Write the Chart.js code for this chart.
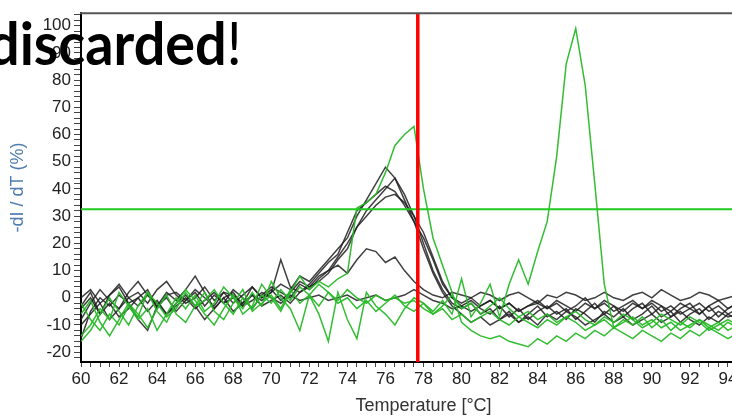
<!DOCTYPE html>
<html>
<head>
<meta charset="utf-8">
<script src="https://cdn.jsdelivr.net/npm/chart.js@4/dist/chart.umd.min.js"></script>
<style>
  html, body { margin: 0; padding: 0; background: #fff; overflow: hidden; }
  #wrap { position: relative; width: 732px; height: 418px; overflow: hidden; }
  #melt { position: absolute; left: 0; top: 0; }
  #note {
    position: absolute; left: -12px; top: 12px;
    font-family: Lato, "Open Sans", sans-serif; font-size: 60px; line-height: 1;
    color: #000; white-space: nowrap;
    transform: scaleX(0.93); transform-origin: 0 0;
  }
  #note b { font-weight: 700; }
</style>
</head>
<body>
<div id="wrap">
  <canvas id="melt" width="766" height="418"></canvas>
  <div id="note"><b>discarded</b>!</div>
</div>
<script>
// temperatures (°C) at which each curve was read
const temps = [60, 60.5, 61, 61.5, 62, 62.5, 63, 63.5, 64, 64.5, 65, 65.5, 66, 66.5, 67, 67.5, 68, 68.5, 69, 69.5,
    70, 70.5, 71, 71.5, 72, 72.5, 73, 73.5, 74, 74.5, 75, 75.5, 76, 76.5, 77, 77.5, 78, 78.5, 79, 79.5,
    80, 80.5, 81, 81.5, 82, 82.5, 83, 83.5, 84, 84.5, 85, 85.5, 86, 86.5, 87, 87.5, 88, 88.5, 89, 89.5,
    90, 90.5, 91, 91.5, 92, 92.5, 93, 93.5, 94, 94.5, 95, 95.5, 96];

// -dI/dT (%) curves, black samples
const black1 = [-3, 2, -6, 1, 4, -2, 0, 3, -4, 1, 2, -1, 3, 0, -3, 2, 1, -2, 4, 0,
    2, 5, 3, 8, 6, 10, 14, 18, 22, 30, 36, 42, 48, 44, 38, 30, 20, 10, 3, -2,
    -4, -2, -6, -4, -8, -5, -9, -6, -3, -7, -5, -8, -4, -6, -9, -5, -7, -4, -8, -6,
    -3, -7, -5, -9, -6, -4, -8, -5, -7, -6, -8, -5, -7];
const black2 = [-8, -2, 3, -1, -4, 2, 6, 1, -3, 0, -5, -1, 2, -3, 1, -2, 3, 0, -4, 1,
    4, 2, 0, 5, 3, 7, 10, 15, 20, 26, 32, 36, 40, 44, 36, 28, 18, 9, 2, -3,
    -6, -9, -7, -10, -8, -6, -9, -7, -10, -6, -8, -5, -7, -10, -8, -6, -9, -7, -10, -8,
    -6, -9, -7, -5, -8, -10, -7, -9, -6, -8, -10, -7, -9];
const black3 = [-15, -5, 0, -3, 1, -2, -8, -12, -3, 2, -1, 3, 8, 2, -4, 0, 2, -3, 1, -1,
    2, 14, 4, 2, 5, 9, 13, 16, 24, 32, 35, 38, 41, 39, 34, 28, 22, 14, 5, 0,
    -2, 0, -3, -1, -4, -2, -5, -3, -1, -4, -2, -5, -3, 0, -4, -2, -5, -3, -1, -4,
    -2, -5, -3, -6, -4, -2, -5, -3, -6, -4, -2, -5, -3];
const black4 = [-4, 0, -6, -2, -7, -4, 0, -5, -1, -6, -2, 1, -3, -8, -4, 0, -5, -2, 1, -3,
    -1, 1, -2, 2, 4, 6, 9, 14, 18, 26, 30, 34, 37, 38, 35, 30, 24, 15, 6, 0,
    -3, -1, -4, -6, -3, -7, -4, -8, -5, -3, -6, -4, -8, -5, -2, -6, -3, -7, -4, -2,
    -6, -3, -7, -4, -2, -6, -3, -7, -4, -2, -5, -3, -6];
const black5 = [0, 3, -2, 1, 5, 0, 2, -2, 3, 6, 1, -2, 0, 4, -1, 2, -2, 1, 4, 0,
    3, -1, 2, 6, 4, 8, 10, 12, 9, 14, 18, 17, 13, 15, 10, 6, 3, 1, 0, 2,
    1, 0, 2, 1, -1, 1, 2, 0, -2, 1, 0, 2, 1, -1, 0, 2, 0, -1, 1, 2,
    0, 3, 1, -1, 0, 2, 1, -1, 0, 1, -1, 1, 0];
const black6 = [-10, -6, -2, -8, -4, 0, -3, 1, -2, -6, -3, 0, -4, -1, 2, -2, 0, -3, -1, 2,
    0, -2, 1, -1, 0, 1, -1, 0, 1, -1, 0, 1, -1, 0, 1, 3, 1, -1, -2, -4,
    -3, -5, -3, -1, -4, -2, -5, -3, -2, -4, -1, -3, -5, -2, -4, -1, -3, -5, -2, -4,
    -1, -3, -5, -2, -4, -6, -3, -1, -4, -2, -4, -3, -5];

// green samples
const green1 = [-14, -10, -4, -8, 2, -3, -8, -4, -12, -6, 0, -4, 1, -5, -2, 4, 0, -4, 2, -3,
    6, 0, -4, -12, 1, -6, -16, 2, -8, -15, 2, -3, -6, -10, -4, 0, -2, -5, -1, -6,
    7, -7, -2, 5, -7, 5, 14, 5, 17, 28, 52, 86, 99, 78, 42, 5, -11, -8, -10, -7,
    -11, -8, -12, -9, -11, -8, -10, -12, -9, -11, -9, -12, -10];
const green2 = [-2, -8, -12, -6, -10, -3, -7, 2, -5, -9, -2, 3, -1, -6, -10, -4, 1, -6, -3, 5,
    0, -5, 2, 8, 3, 6, 4, 7, 9, 33, 35, 38, 46, 56, 60, 63, 40, 22, 12, 2,
    -9, -12, -14, -15, -14, -16, -17, -18, -15, -17, -14, -16, -13, -15, -12, -14, -11, -13, -15, -12,
    -14, -16, -13, -15, -12, -14, -11, -13, -15, -13, -12, -14, -13];
const green3 = [-16, -12, -6, 0, -5, -10, -3, 2, -2, -7, -4, 2, -3, -1, 3, -2, -6, 0, -4, 1,
    -2, 3, -1, 4, 1, 5, 2, -1, 3, 0, -2, 1, -1, 0, -2, -1, -4, -6, -4, -8,
    -6, -9, -7, -5, -8, -10, -7, -9, -11, -8, -10, -7, -9, -12, -10, -8, -11, -9, -7, -10,
    -8, -11, -9, -12, -10, -8, -11, -9, -12, -10, -11, -9, -10];
const green4 = [-6, -1, -9, -14, -8, -2, -6, -11, -4, 1, -6, -9, -3, 2, -5, -8, -2, 3, -5, -2,
    1, -4, 3, -2, 1, -3, 2, -2, 0, -4, -1, -5, -2, 1, -3, -5, -2, -6, -3, 1,
    -4, -2, -6, -3, 0, -4, -7, -5, -8, -6, -9, -7, -5, -8, -10, -7, -9, -6, -8, -11,
    -9, -6, -8, -10, -7, -9, -12, -10, -8, -10, -9, -11, -9];

// threshold and selected temperature
const thresholdLevel = 32.5;
const markerTemp = 77.7;

// axis ranges and labelled ticks (the picture is cropped a little before 96 °C)
const xRange = [60, 96];
const yRange = [-23.6, 104.6];
const xTickLabels = [60, 62, 64, 66, 68, 70, 72, 74, 76, 78, 80, 82, 84, 86, 88, 90, 92, 94, 96];
const yTickLabels = [-20, -10, 0, 10, 20, 30, 40, 50, 60, 70, 80, 90, 100];

const blackCurves = [black1, black2, black3, black4, black5, black6];
const greenCurves = [green1, green2, green3, green4];

function toPoints(values) {
    return values.map((v, i) => ({ x: temps[i], y: v }));
}

function curveSet(values, color, ord) {
    return {
        data: toPoints(values),
        borderColor: color,
        borderWidth: 1.5,
        pointRadius: 0,
        tension: 0,
        order: ord
    };
}

const datasets = [];
// red marker line on top
datasets.push({
    data: [{ x: markerTemp, y: yRange[0] }, { x: markerTemp, y: yRange[1] }],
    borderColor: '#ff0000', borderWidth: 3.5, pointRadius: 0, order: 0
});
// threshold line
datasets.push({
    data: [{ x: xRange[0], y: thresholdLevel }, { x: xRange[1], y: thresholdLevel }],
    borderColor: '#1ecb1e', borderWidth: 2, pointRadius: 0, order: 1
});
greenCurves.forEach(g => datasets.push(curveSet(g, 'rgba(40,185,40,0.95)', 2)));
blackCurves.forEach(b => datasets.push(curveSet(b, 'rgba(30,30,30,0.85)', 3)));

// minor ticks between labels
function stepTicks(min, max, step) {
    const out = [];
    for (let v = Math.ceil(min / step) * step; v <= max + 1e-9; v += step) {
        out.push({ value: Math.round(v * 100) / 100 });
    }
    return out;
}

// top frame line
const framePlugin = {
    id: 'frame',
    afterDraw(chart) {
        const { ctx, chartArea } = chart;
        ctx.save();
        ctx.strokeStyle = '#555';
        ctx.lineWidth = 2;
        ctx.beginPath();
        ctx.moveTo(chartArea.left - 1, chartArea.top);
        ctx.lineTo(chartArea.right, chartArea.top);
        ctx.stroke();
        ctx.restore();
    }
};

const fontFamily = '"Liberation Sans", Arial, sans-serif';
const tickFont = { family: fontFamily, size: 17 };

new Chart(document.getElementById('melt'), {
    type: 'line',
    data: { datasets: datasets },
    options: {
        responsive: false,
        animation: false,
        events: [],
        layout: { padding: { top: 7, right: 0, left: 0, bottom: 0 } },
        plugins: { legend: { display: false }, tooltip: { enabled: false } },
        scales: {
            x: {
                type: 'linear',
                min: xRange[0],
                max: xRange[1],
                afterBuildTicks: s => { s.ticks = stepTicks(60, 96, 0.5); },
                afterFit: s => { s.height = 56; s.paddingLeft = 0; s.paddingRight = 0; },
                ticks: {
                    autoSkip: false,
                    maxRotation: 0,
                    padding: 2,
                    color: '#222',
                    font: tickFont,
                    callback: v => xTickLabels.includes(v) ? String(v) : ''
                },
                grid: { drawOnChartArea: false, drawTicks: true, tickLength: 5, tickColor: '#444', tickWidth: 1 },
                border: { display: true, color: '#000', width: 2 },
                title: {
                    display: true,
                    text: 'Temperature [°C]',
                    color: '#333',
                    font: { family: fontFamily, size: 18 },
                    padding: { top: 0, bottom: 1 }
                }
            },
            y: {
                type: 'linear',
                min: yRange[0],
                max: yRange[1],
                afterBuildTicks: s => { s.ticks = stepTicks(-22, 104, 2); },
                afterFit: s => { s.width = 81; },
                ticks: {
                    autoSkip: false,
                    padding: 3,
                    color: '#222',
                    font: tickFont,
                    callback: v => yTickLabels.includes(v) ? String(v) : ''
                },
                grid: { drawOnChartArea: false, drawTicks: true, tickLength: 7, tickColor: '#444', tickWidth: 1 },
                border: { display: true, color: '#000', width: 2 },
                title: {
                    display: true,
                    text: '-dI / dT (%)',
                    color: '#4f7db0',
                    font: { family: fontFamily, size: 18 },
                    padding: { top: 7, bottom: 0 }
                }
            }
        }
    },
    plugins: [framePlugin]
});
</script>
</body>
</html>
